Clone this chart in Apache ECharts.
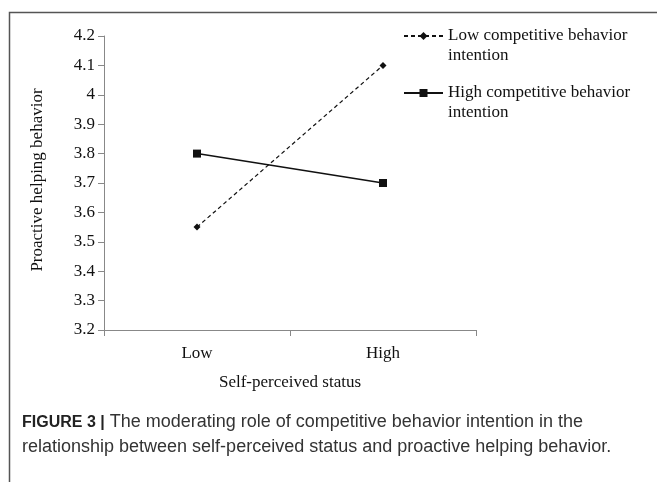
<!DOCTYPE html>
<html>
<head>
<meta charset="utf-8">
<script src="https://cdn.jsdelivr.net/npm/echarts@6/dist/echarts.min.js"></script>
<style>html,body{margin:0;padding:0;background:#fff;}#c{width:657px;height:482px;}</style>
</head>
<body>
<div id="c"></div>
<script>
var categories = ['Low', 'High'];
var lowIntention = [3.55, 4.1];
var highIntention = [3.8, 3.7];
var seriesNames = ['Low competitive behavior intention', 'High competitive behavior intention'];
var legendLines = {
  'Low competitive behavior intention': ['Low competitive behavior', 'intention'],
  'High competitive behavior intention': ['High competitive behavior', 'intention']
};
var serif = '"Liberation Serif", "Times New Roman", serif';
var sans = '"Liberation Sans", Arial, sans-serif';
var chart = echarts.init(document.getElementById('c'), null, {renderer: 'canvas'});
chart.setOption({
  animation: false,
  backgroundColor: '#fff',
  graphic: [{
    type: 'rect', left: 7, top: 10, silent: true,
    shape: {width: 700, height: 500},
    style: {fill: 'none', stroke: '#555', lineWidth: 1.5}
  }],
  title: {
    left: 17, top: 405,
    text: '{b|FIGURE 3 |} The moderating role of competitive behavior intention in the\nrelationship between self-perceived status and proactive helping behavior.',
    textStyle: {
      fontFamily: sans, fontSize: 18, fontWeight: 'normal', color: '#333', lineHeight: 25,
      rich: {b: {fontFamily: sans, fontSize: 16, fontWeight: 'bold', color: '#222', lineHeight: 25}}
    }
  },
  legend: {
    orient: 'vertical', left: 398, top: 1,
    itemWidth: 39, itemHeight: 10, itemGap: -3,
    data: seriesNames,
    formatter: function (n) { return '\n' + legendLines[n].join('\n'); },
    textStyle: {fontFamily: serif, fontSize: 17, color: '#111', lineHeight: 20}
  },
  grid: {left: 104, right: 181, top: 36, bottom: 152},
  xAxis: {
    type: 'category', data: categories, boundaryGap: true,
    name: 'Self-perceived status', nameLocation: 'middle', nameGap: 44,
    nameTextStyle: {fontFamily: serif, fontSize: 17, color: '#111'},
    axisLine: {lineStyle: {color: '#888', width: 1}},
    axisTick: {show: true, length: 6, lineStyle: {color: '#888'}},
    axisLabel: {fontFamily: serif, fontSize: 17, color: '#111', margin: 15},
    splitLine: {show: false}
  },
  yAxis: {
    type: 'value', min: 3.2, max: 4.2, interval: 0.1,
    name: 'Proactive helping behavior', nameLocation: 'middle', nameGap: 58, nameRotate: 90,
    nameTextStyle: {fontFamily: serif, fontSize: 17, color: '#111', padding: [0, 0, 0, 6]},
    axisLine: {show: true, lineStyle: {color: '#888', width: 1}},
    axisTick: {show: true, length: 6, lineStyle: {color: '#888'}},
    axisLabel: {fontFamily: serif, fontSize: 17, color: '#111', margin: 9,
      formatter: function (v) { return String(Math.round(v * 10) / 10); }},
    splitLine: {show: false}
  },
  series: [{
    name: seriesNames[0], type: 'line', data: lowIntention,
    symbol: 'diamond', symbolSize: 7,
    lineStyle: {color: '#111', width: 1.2, type: [4, 3]},
    itemStyle: {color: '#111'}
  }, {
    name: seriesNames[1], type: 'line', data: highIntention,
    symbol: 'rect', symbolSize: 8,
    lineStyle: {color: '#111', width: 1.5, type: 'solid'},
    itemStyle: {color: '#111'}
  }]
});
</script>
</body>
</html>
